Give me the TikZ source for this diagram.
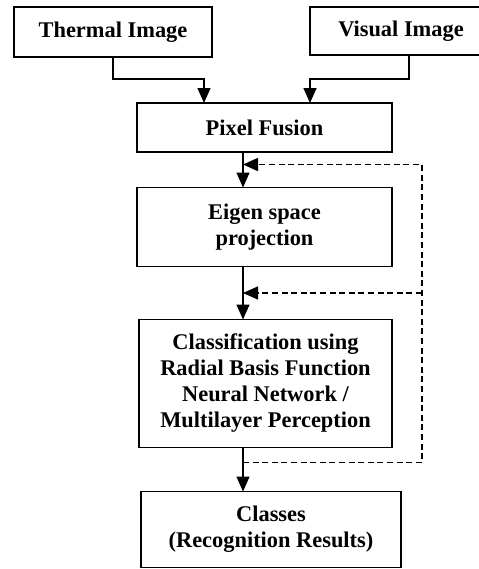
\documentclass[tikz,border=0pt]{standalone}
\usepackage{fontspec}
\setmainfont{Liberation Serif}
\usepackage{tikz}
\usetikzlibrary{positioning}
\usetikzlibrary{calc}
\usetikzlibrary{arrows.meta}

\begin{document}
\begin{tikzpicture}[font=\fontsize{11.2}{13}\selectfont\bfseries,
    block/.style={draw, line width=0.75pt, align=center, inner sep=0pt, outer sep=0pt, minimum width=127.5pt},
    arrow/.style={-{Triangle[length=7.5pt, width=6.5pt]}, line width=0.75pt},
    feedback/.style={arrow, dash pattern=on 3pt off 1.8pt},
]
\useasboundingbox (0,0) rectangle (239pt,-284.5pt);

\node[block, minimum width=99pt, minimum height=25pt] at (56.5pt,-16pt) (thermal) {Thermal Image};
\node[block, minimum width=91pt, minimum height=24pt, right=49pt of thermal.north east, anchor=north west] (visual) {Visual Image};
\node[block, minimum height=24.5pt] at (132.25pt,-63.75pt) (fusion) {Pixel Fusion};
\node[block, minimum height=39.5pt, below=17.75pt of fusion] (eigen) {Eigen space\\projection};
\node[block, minimum width=126.5pt, minimum height=64pt, below=26.5pt of eigen, xshift=0.5pt] (classify) {Classification using\\Radial Basis Function\\Neural Network /\\Multilayer Perception};
\node[block, minimum width=130pt, minimum height=38pt, below=22pt of classify, xshift=2.75pt] (classes) {Classes\\ (Recognition Results)};

% main line and the right side of the loop
\coordinate (spine) at (121.5pt,0);
\coordinate (loop) at (211pt,0);
\coordinate (join) at (0,-39.5pt);

\draw[arrow] (thermal.south) |- ([xshift=-30.25pt]fusion.north |- join) -- ([xshift=-30.25pt]fusion.north);
\draw[arrow] ([xshift=4pt]visual.south) |- ([xshift=22.75pt]fusion.north |- join) -- ([xshift=22.75pt]fusion.north);
\draw[arrow] (fusion.south -| spine) -- (eigen.north -| spine);
\draw[arrow] (eigen.south -| spine) -- (classify.north -| spine);
\draw[arrow] (classify.south -| spine) -- (classes.north -| spine);

\coordinate (fbout) at ([yshift=-7.5pt]classify.south -| spine);
\coordinate (fbA) at ([yshift=-6.25pt]fusion.south -| spine);
\coordinate (fbB) at ($(eigen.south -| spine)!.5!(classify.north -| spine)$);
\draw[feedback] (fbout) -| (loop |- fbA) -- (fbA);
\draw[feedback] (loop |- fbB) -- (fbB);

\end{tikzpicture}
\end{document}
